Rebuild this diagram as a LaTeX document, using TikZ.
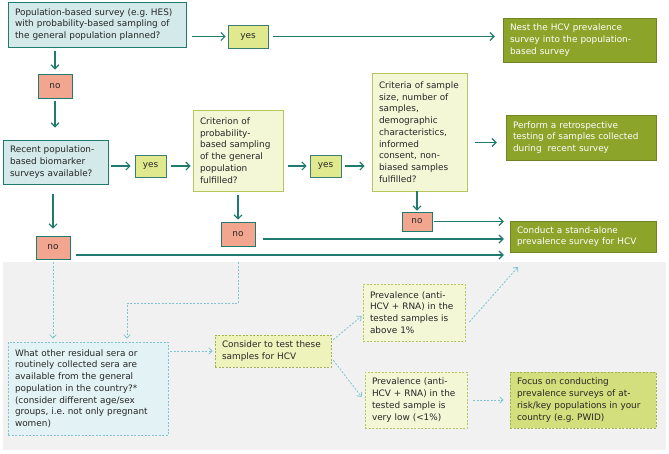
\documentclass[tikz,border=0pt]{standalone}
\usepackage{fontspec}
\setmainfont{DejaVu Sans}
\usetikzlibrary{arrows.meta}
\frenchspacing

\definecolor{hcvteal}{HTML}{1E7B6E}
\definecolor{hcvblue}{HTML}{D3E9EA}
\definecolor{hcvyes}{HTML}{E1E98F}
\definecolor{hcvno}{HTML}{F2A68F}
\definecolor{hcvpale}{HTML}{F4F7D5}
\definecolor{hcvpaleline}{HTML}{B6C65C}
\definecolor{hcvolive}{HTML}{8DA42B}
\definecolor{hcvlime}{HTML}{D3DF7C}
\definecolor{hcvlight}{HTML}{EEF3BC}
\definecolor{hcvdash}{HTML}{7FC5D0}
\definecolor{hcvsky}{HTML}{E3F2F4}
\definecolor{hcvgrey}{HTML}{F1F1F1}
\definecolor{hcvtext}{HTML}{262626}

\tikzset{
  box/.style={align=left, inner xsep=7pt, inner ysep=2pt, text=hcvtext,
    font=\fontsize{8.9}{11.7}\selectfont\frenchspacing},
  question/.style={box, draw=hcvteal, line width=0.9pt, fill=hcvblue},
  criterionbox/.style={box, draw=hcvpaleline, line width=0.9pt, fill=hcvpale},
  outcome/.style={box, draw=hcvolive!80!black, line width=0.5pt, fill=hcvolive, text=white},
  yesbox/.style={box, align=center, draw=hcvteal!70!gray, line width=0.8pt, fill=hcvyes,
    inner xsep=0pt},
  nobox/.style={box, align=center, draw=hcvteal, line width=0.9pt, fill=hcvno,
    inner xsep=0pt},
  dashbox/.style={box, dash pattern=on 2pt off 1.5pt, line width=0.7pt},
  arr/.style={draw=hcvteal, line width=1.1pt, -{Straight Barb[length=4pt,width=8pt]}},
  dasharr/.style={draw=hcvdash, line width=0.8pt, dash pattern=on 2pt off 1.5pt,
    -{Straight Barb[length=3.5pt,width=6.5pt]}}
}

\begin{document}
\begin{tikzpicture}[x=1pt, y=-1pt]
  \useasboundingbox[fill=white] (0,0) rectangle (669,453);
  \fill[hcvgrey] (3,262) rectangle (666,450);

  % upper part
  \node[question, text width=164pt, minimum height=45pt] (survey) at (97,24.5)
    {Population-based survey (e.g. HES)\\with probability-based sampling of\\the general population planned?};
  \node[yesbox, minimum width=40pt, minimum height=23pt] (yesA) at (248,36.5) {yes};
  \node[outcome, text width=139pt, minimum height=44pt] (nest) at (579.5,40)
    {Nest the HCV prevalence\\survey into the population-\\based survey};
  \node[nobox, minimum width=34pt, minimum height=24pt] (noA) at (55,86) {no};

  \node[question, text width=91pt, minimum height=44pt] (recent) at (55.5,162)
    {Recent population-\\based biomarker\\surveys available?};
  \node[yesbox, minimum width=31pt, minimum height=22pt] (yesB) at (150.5,166) {yes};
  \node[criterionbox, text width=76pt, minimum height=81pt] (criterion) at (238,150.5)
    {Criterion of\\probability-\\based sampling\\of the general\\population\\fulfilled?};
  \node[yesbox, minimum width=31pt, minimum height=22pt] (yesC) at (325.5,166) {yes};
  \node[criterionbox, text width=81pt, minimum height=118pt] (criteria) at (419.5,132)
    {Criteria of sample\\size, number of\\samples,\\demographic\\characteristics,\\informed\\consent, non-\\biased samples\\fulfilled?};
  \node[outcome, text width=136pt, minimum height=45pt] (perform) at (581,137.5)
    {Perform a retrospective\\testing of samples collected\\during~ recent survey};

  \node[nobox, minimum width=30pt, minimum height=19pt] (noD) at (417,221.5) {no};
  \node[nobox, minimum width=34pt, minimum height=24pt] (noC) at (238,234) {no};
  \node[nobox, minimum width=34pt, minimum height=23pt] (noB) at (53,247.5) {no};
  \node[outcome, text width=132pt, minimum height=31pt] (conduct) at (583,236.5)
    {Conduct a stand-alone\\prevalence survey for HCV};

  % lower part
  \node[dashbox, draw=hcvdash, fill=hcvsky, text width=146pt, minimum height=93pt] (what) at (88,388.5)
    {What other residual sera or\\routinely collected sera are\\available from the general\\population in the country?*\\(consider different age/sex\\groups, i.e. not only pregnant\\women)};
  \node[dashbox, draw=hcvpaleline!90!black, fill=hcvlight, text width=102pt, minimum height=32pt] (consider) at (273,351)
    {Consider to test these\\samples for HCV};
  \node[dashbox, draw=hcvpaleline, fill=hcvpale, text width=88pt, minimum height=57pt] (prevHigh) at (414,312.5)
    {Prevalence (anti-\\HCV + RNA) in the\\tested samples is\\above 1\%};
  \node[dashbox, draw=hcvpaleline, fill=hcvpale, text width=88pt, minimum height=56pt] (prevLow) at (416,400)
    {Prevalence (anti-\\HCV + RNA) in the\\tested sample is\\very low (<1\%)};
  \node[dashbox, draw=hcvpaleline!90!black, fill=hcvlime, text width=132pt, minimum height=56pt] (focus) at (583,400)
    {Focus on conducting\\prevalence surveys of at-\\risk/key populations in your\\country (e.g. PWID)};

  \path ([yshift=-5pt]perform.west) coordinate (performIn);
  \path ([yshift=-2.5pt]conduct.west) coordinate (conductInC);
  \path ([yshift=-18.5pt]conduct.west) coordinate (conductInB);
  \path ([xshift=39pt]what.north) coordinate (whatIn);
  \coordinate (towardConduct) at (518,267);

  % solid connectors
  \draw[arr, shorten <=6pt, shorten >=2pt] (survey.east |- yesA) -- (yesA.west);
  \draw[arr, shorten <=5pt, shorten >=8pt] (yesA.east) -- (nest.west |- yesA);
  \draw[arr, shorten <=4pt, shorten >=4pt] (noA.north |- survey.south) -- (noA.north);
  \draw[arr, shorten <=3pt, shorten >=12pt] (noA.south) -- (noA |- recent.north);
  \draw[arr, shorten <=3pt, shorten >=4pt] (recent.east |- yesB) -- (yesB.west);
  \draw[arr, shorten <=5pt, shorten >=2pt] (yesB.east) -- (criterion.west |- yesB);
  \draw[arr, shorten <=5pt, shorten >=3pt] (criterion.east |- yesC) -- (yesC.west);
  \draw[arr, shorten <=4pt, shorten >=7pt] (yesC.east) -- (criteria.west |- yesC);
  \draw[arr, shorten <=8pt, shorten >=9pt] (criteria.east |- performIn) -- (performIn);
  \draw[arr, shorten >=1pt] (criteria.south -| noD) -- (noD.north);
  \draw[arr, shorten <=2pt, shorten >=6pt] (noD.east) -- (conduct.west |- noD);
  \draw[arr, shorten <=4pt, shorten >=2pt] (criterion.south -| noC) -- (noC.north);
  \draw[arr, shorten <=8pt, shorten >=6pt] (noC.east |- conductInC) -- (conductInC);
  \draw[arr, shorten <=10pt, shorten >=7pt] (noB.north |- recent.south) -- (noB.north);
  \draw[arr, shorten <=6pt, shorten >=6pt] (noB.east |- conductInB) -- (conductInB);

  % dashed connectors
  \draw[dasharr, shorten <=3pt, shorten >=3pt] (noB.south) -- (noB.south |- what.north);
  \draw[dasharr, shorten <=16pt, shorten >=3pt] (noC.south) -- ++(0,57) -| (whatIn);
  \draw[dasharr, shorten <=2pt, shorten >=2pt] (what.east |- consider) -- (consider.west);
  \draw[dasharr] ([xshift=2pt,yshift=-5pt]consider.north east) -- ([xshift=-1pt,yshift=-3.5pt]prevHigh.west);
  \draw[dasharr] ([xshift=4pt,yshift=-9.5pt]prevHigh.east) -- (towardConduct);
  \draw[dasharr] ([xshift=2pt,yshift=7pt]consider.south east) -- ([xshift=-3pt,yshift=3pt]prevLow.west);
  \draw[dasharr, shorten <=6pt, shorten >=6pt] (prevLow.east) -- (focus.west);
\end{tikzpicture}
\end{document}
